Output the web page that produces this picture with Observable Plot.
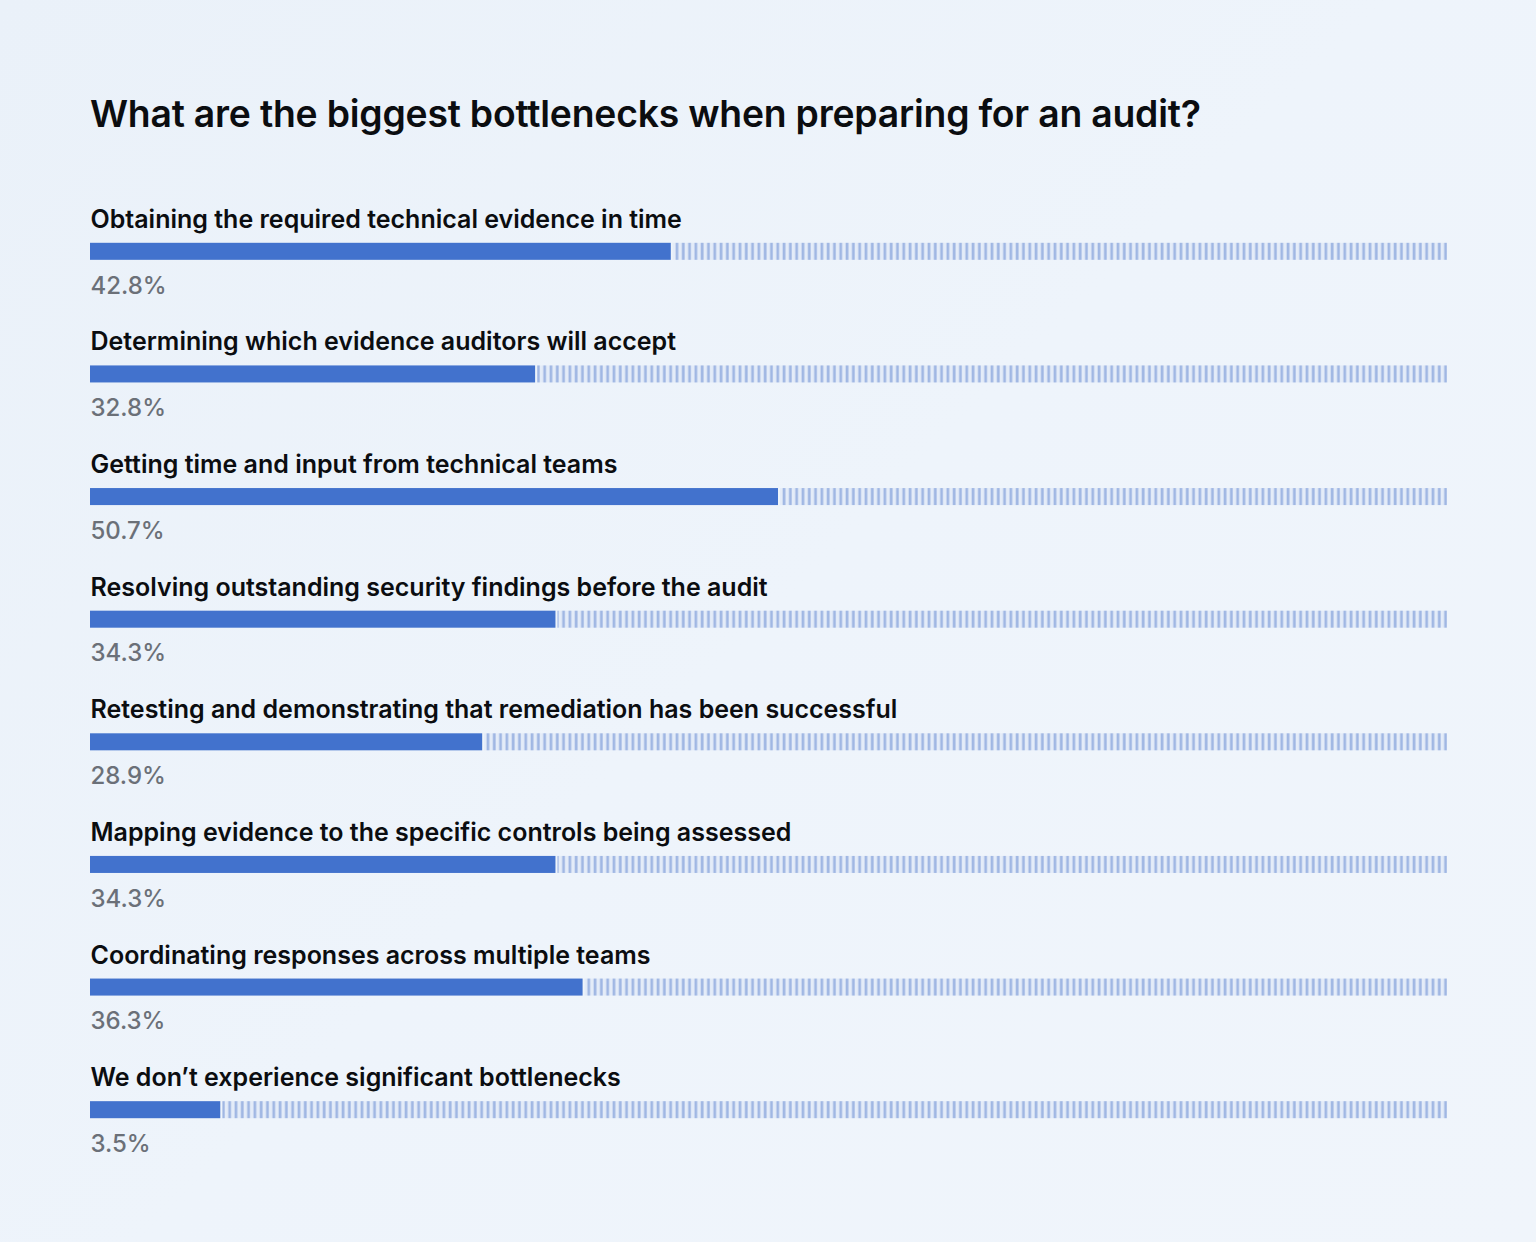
<!DOCTYPE html>
<html>
<head>
<meta charset="utf-8">
<script src="https://cdn.jsdelivr.net/npm/d3@7"></script>
<script src="https://cdn.jsdelivr.net/npm/@observablehq/plot@0.6"></script>
<style>
  html, body { margin: 0; padding: 0; }
  body {
    width: 1536px; height: 1242px; overflow: hidden;
    background: linear-gradient(135deg, #eaf1f9 0%, #eef4fb 50%, #f0f5fb 100%);
    font-family: Inter, "Noto Sans", sans-serif;
  }
  #title {
    height: 170px; box-sizing: border-box;
    padding: 93px 0 0 90px; margin: 0;
    font-size: 37.3px; font-weight: 600; color: #0b0d10; line-height: 1.1;
    letter-spacing: -0.2px;
  }
  #chart svg { display: block; background: transparent; }
</style>
</head>
<body>
<h1 id="title">What are the biggest bottlenecks when preparing for an audit?</h1>
<div id="chart"></div>
<script>
const categories = [
  "Obtaining the required technical evidence in time",
  "Determining which evidence auditors will accept",
  "Getting time and input from technical teams",
  "Resolving outstanding security findings before the audit",
  "Retesting and demonstrating that remediation has been successful",
  "Mapping evidence to the specific controls being assessed",
  "Coordinating responses across multiple teams",
  "We don\u2019t experience significant bottlenecks"
];
const values = [42.8, 32.8, 50.7, 34.3, 28.9, 34.3, 36.3, 3.5];
const valueLabels = ["42.8%", "32.8%", "50.7%", "34.3%", "28.9%", "34.3%", "36.3%", "3.5%"];

// style: smallest drawn bar length (share of full track)
const minBarShare = 9.6;

const data = categories.map((c, i) => ({
  category: c,
  value: values[i],
  shown: Math.max(values[i], minBarShare),
  label: valueLabels[i]
}));

const barColor = "#4272cd";
const stripeColor = "#a0b7e3";

const plot = Plot.plot({
  width: 1536,
  height: 1072,
  marginLeft: 90,
  marginRight: 89,
  marginTop: 20,
  marginBottom: 71,
  x: { domain: [0, 100], axis: null },
  y: { domain: categories, axis: null, padding: 0, round: false },
  style: { background: "transparent", fontFamily: "Inter, 'Noto Sans', sans-serif" },
  marks: [
    Plot.barX(data, {
      y: "category", x1: "shown", x2: () => 100,
      fill: "url(#hatch)", insetTop: 52.8, insetBottom: 52.8, insetLeft: 2
    }),
    Plot.barX(data, {
      y: "category", x1: () => 0, x2: "shown",
      fill: barColor, insetTop: 52.8, insetBottom: 52.8
    }),
    Plot.text(data, {
      y: "category", x: () => 0, text: "category",
      textAnchor: "start", dy: -32, fontSize: 25, fontWeight: 600, fill: "#0b0d10"
    }),
    Plot.text(data, {
      y: "category", x: () => 0, text: "label",
      textAnchor: "start", dy: 34, fontSize: 24, fontWeight: 500, fill: "#6b7078"
    })
  ]
});

// stripe pattern definition (style only)
const ns = "http://www.w3.org/2000/svg";
const defs = document.createElementNS(ns, "defs");
const pat = document.createElementNS(ns, "pattern");
pat.setAttribute("id", "hatch");
pat.setAttribute("patternUnits", "userSpaceOnUse");
pat.setAttribute("width", "6.3");
pat.setAttribute("height", "40");
const bg = document.createElementNS(ns, "rect");
bg.setAttribute("width", "6.3"); bg.setAttribute("height", "40");
bg.setAttribute("fill", "#e4ecf8");
const st = document.createElementNS(ns, "rect");
st.setAttribute("x", "1.5"); st.setAttribute("width", "2.7"); st.setAttribute("height", "40");
st.setAttribute("fill", stripeColor);
pat.appendChild(bg); pat.appendChild(st);
defs.appendChild(pat);
plot.insertBefore(defs, plot.firstChild);

document.getElementById("chart").appendChild(plot);
</script>
</body>
</html>
